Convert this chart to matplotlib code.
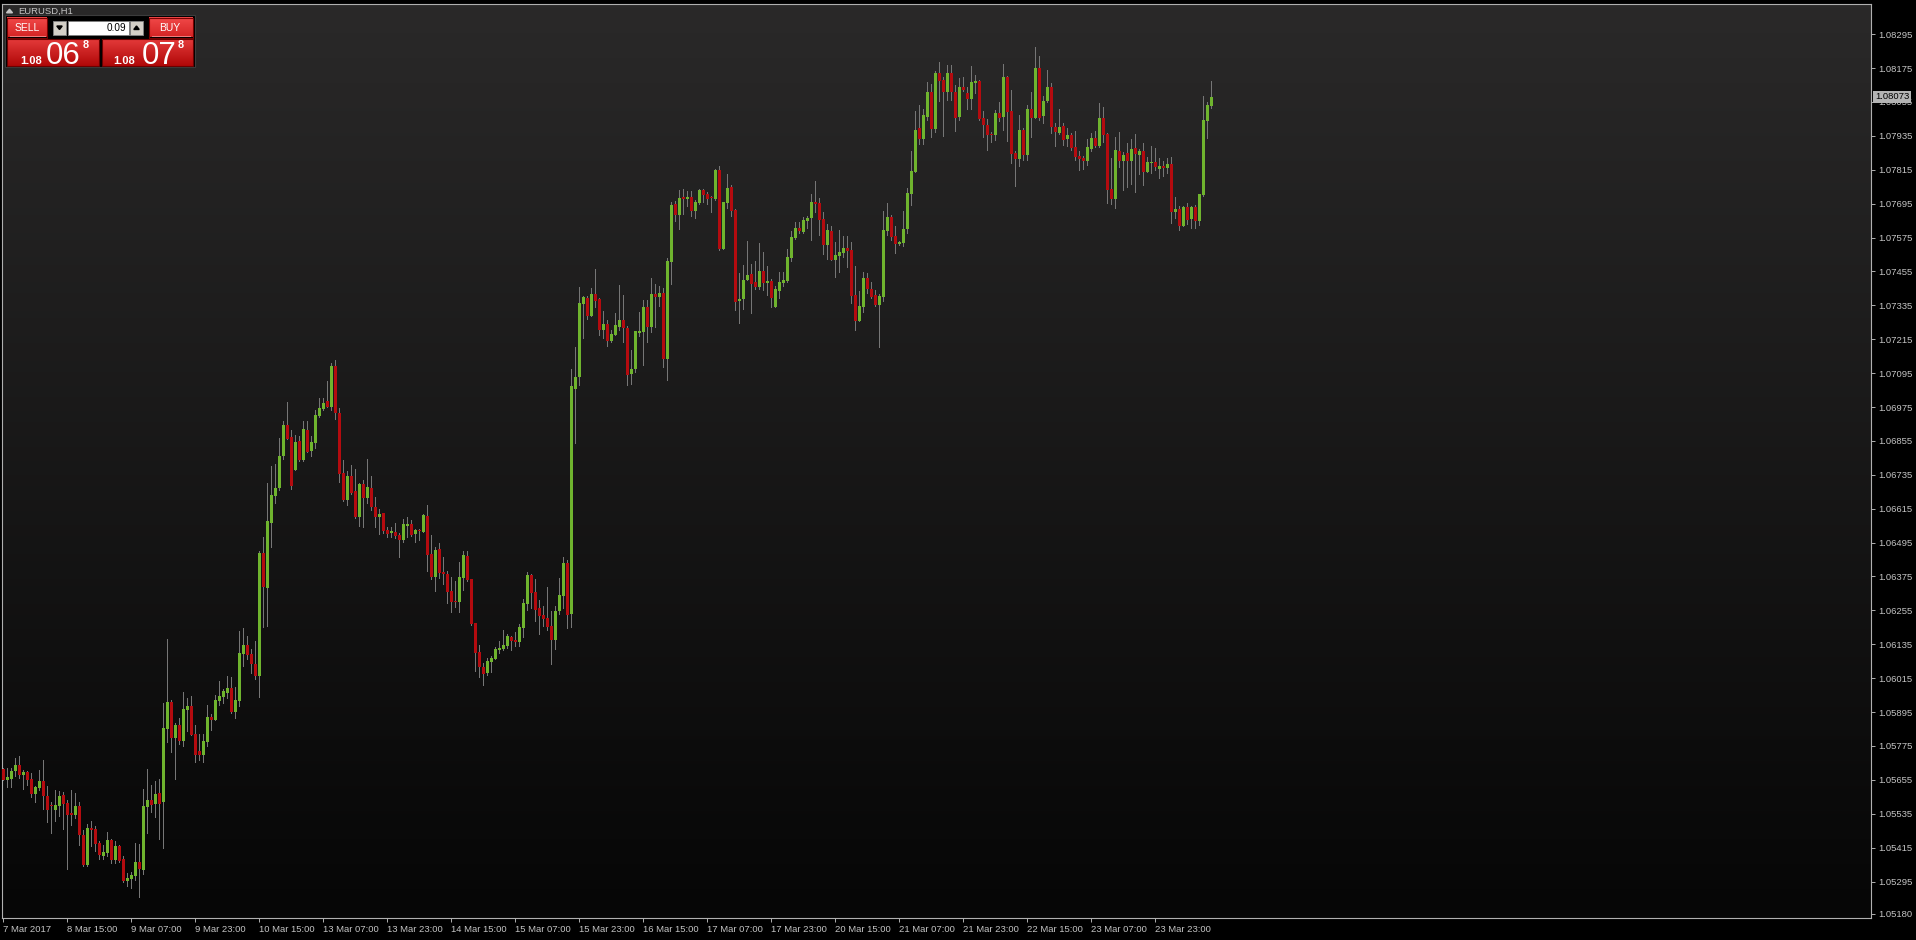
import numpy as np
import matplotlib.pyplot as plt
from matplotlib.colors import LinearSegmentedColormap
from matplotlib.patches import Rectangle, Polygon

plt.rcParams['font.family'] = ['Liberation Sans', 'DejaVu Sans']

# EURUSD H1 candles, prices in points (1 point = 0.00001)
opens = [
    105693, 105656, 105658, 105687, 105708, 105673, 105683, 105658, 105605, 105627, 105651, 105598, 105563, 105549, 105563, 105602,
    105573, 105538, 105531, 105563, 105460, 105354, 105485, 105481, 105432, 105386, 105396, 105442, 105372, 105421, 105375, 105297,
    105304, 105315, 105365, 105336, 105559, 105584, 105570, 105609, 105577, 105835, 105931, 105804, 105850, 105793, 105903, 105917,
    105818, 105758, 105743, 105789, 105878, 105867, 105934, 105948, 105963, 105980, 105895, 105934, 106101, 106133, 106101, 106065,
    106023, 106458, 106334, 106564, 106660, 106688, 106802, 106911, 106869, 106752, 106855, 106788, 106894, 106819, 106848, 106943,
    106968, 106996, 106975, 107120, 106954, 106742, 106646, 106731, 106678, 106586, 106703, 106653, 106688, 106621, 106586, 106600,
    106540, 106529, 106533, 106522, 106504, 106554, 106561, 106526, 106538, 106532, 106589, 106454, 106373, 106472, 106390, 106383,
    106323, 106288, 106284, 106369, 106447, 106366, 106210, 106107, 106054, 106033, 106072, 106082, 106114, 106118, 106128, 106160,
    106150, 106143, 106192, 106277, 106380, 106320, 106263, 106238, 106228, 106199, 106150, 106252, 106305, 106422, 106242, 107038,
    107081, 107339, 107361, 107297, 107375, 107357, 107247, 107269, 107208, 107230, 107258, 107283, 107254, 107092, 107109, 107237,
    107240, 107329, 107258, 107375, 107364, 107378, 107145, 107488, 107694, 107655, 107718, 107711, 107718, 107669, 107697, 107743,
    107729, 107715, 107711, 107814, 107534, 107697, 107754, 107672, 107350, 107357, 107424, 107446, 107417, 107400, 107456, 107414,
    107421, 107329, 107386, 107414, 107421, 107502, 107573, 107609, 107594, 107633, 107644, 107701, 107697, 107640, 107548, 107598,
    107495, 107509, 107520, 107538, 107531, 107371, 107279, 107329, 107432, 107393, 107371, 107336, 107364, 107598, 107648, 107580,
    107552, 107555, 107605, 107730, 107808, 107963, 107924, 108002, 108091, 107960, 108158, 108133, 108089, 108158, 108091, 108002,
    108109, 108087, 108066, 108123, 108130, 107999, 107974, 107942, 107939, 108017, 108002, 108144, 108024, 107875, 107854, 107956,
    107868, 108031, 107999, 108176, 108006, 108059, 108109, 107967, 107946, 107971, 107924, 107939, 107896, 107864, 107857, 107847,
    107889, 107928, 107900, 107999, 107942, 107747, 107712, 107882, 107847, 107875, 107847, 107893, 107868, 107882, 107808, 107840,
    107843, 107818, 107829, 107822, 107836, 107666, 107677, 107616, 107684, 107641, 107684, 107634, 107726, 107988, 108041,
]
highs = [
    105697, 105697, 105697, 105733, 105740, 105690, 105686, 105679, 105634, 105690, 105726, 105634, 105575, 105620, 105615, 105612,
    105584, 105620, 105609, 105577, 105478, 105499, 105510, 105492, 105439, 105425, 105471, 105446, 105439, 105424, 105386, 105326,
    105329, 105432, 105428, 105623, 105694, 105637, 105651, 105658, 105928, 106154, 105938, 105857, 105874, 105966, 105945, 105952,
    105850, 105818, 105818, 105920, 105888, 105955, 106005, 105977, 106023, 106019, 105984, 106182, 106193, 106164, 106118, 106147,
    106465, 106515, 106706, 106766, 106773, 106865, 106926, 106993, 106894, 106876, 106873, 106926, 106926, 106873, 106965, 107007,
    107007, 107067, 107131, 107142, 106972, 106788, 106749, 106770, 106756, 106706, 106717, 106791, 106731, 106657, 106614, 106600,
    106550, 106550, 106564, 106529, 106579, 106586, 106575, 106542, 106543, 106596, 106628, 106521, 106479, 106493, 106444, 106394,
    106373, 106359, 106426, 106465, 106465, 106366, 106210, 106132, 106068, 106086, 106093, 106125, 106146, 106185, 106171, 106164,
    106178, 106206, 106295, 106390, 106382, 106366, 106291, 106270, 106337, 106252, 106270, 106369, 106444, 106433, 107109, 107187,
    107400, 107368, 107368, 107396, 107463, 107361, 107315, 107283, 107247, 107308, 107407, 107371, 107262, 107177, 107244, 107311,
    107354, 107354, 107432, 107410, 107403, 107396, 107502, 107701, 107704, 107743, 107747, 107740, 107740, 107708, 107747, 107747,
    107736, 107722, 107817, 107828, 107701, 107800, 107761, 107676, 107449, 107478, 107563, 107481, 107492, 107555, 107524, 107474,
    107428, 107403, 107453, 107453, 107534, 107598, 107630, 107630, 107647, 107651, 107729, 107775, 107715, 107665, 107623, 107616,
    107559, 107601, 107580, 107580, 107559, 107474, 107386, 107453, 107449, 107417, 107389, 107375, 107669, 107697, 107655, 107616,
    107563, 107669, 107750, 107882, 108024, 108045, 108031, 108126, 108119, 108165, 108197, 108145, 108186, 108186, 108116, 108140,
    108144, 108109, 108183, 108151, 108132, 108024, 107995, 107949, 108027, 108055, 108190, 108148, 108098, 107882, 108009, 107963,
    108045, 108091, 108250, 108218, 108077, 108169, 108123, 107981, 108031, 107981, 107963, 107946, 107953, 107882, 107864, 107924,
    107946, 107953, 108052, 108038, 107946, 107857, 107932, 107949, 107878, 107910, 107924, 107942, 107889, 107910, 107861, 107900,
    107893, 107857, 107847, 107857, 107861, 107719, 107687, 107687, 107698, 107686, 107691, 107730, 108077, 108055, 108130,
]
lows = [
    105653, 105631, 105631, 105667, 105660, 105624, 105636, 105594, 105575, 105620, 105553, 105504, 105468, 105511, 105527, 105481,
    105341, 105496, 105520, 105425, 105350, 105350, 105421, 105404, 105375, 105375, 105386, 105361, 105361, 105365, 105294, 105280,
    105273, 105301, 105241, 105322, 105467, 105542, 105524, 105446, 105414, 105789, 105754, 105658, 105782, 105775, 105828, 105814,
    105719, 105726, 105719, 105775, 105832, 105867, 105920, 105927, 105945, 105892, 105874, 105917, 106058, 106083, 106033, 106012,
    105948, 106196, 106200, 106480, 106635, 106681, 106791, 106861, 106685, 106752, 106784, 106784, 106816, 106802, 106830, 106940,
    106965, 106975, 106965, 106933, 106710, 106642, 106628, 106667, 106582, 106554, 106550, 106635, 106611, 106550, 106526, 106529,
    106515, 106515, 106511, 106444, 106497, 106515, 106518, 106497, 106504, 106532, 106394, 106366, 106323, 106369, 106348, 106281,
    106249, 106267, 106249, 106327, 106359, 106203, 106040, 106019, 105990, 106026, 106036, 106082, 106104, 106114, 106121, 106114,
    106128, 106128, 106160, 106256, 106263, 106217, 106171, 106199, 106185, 106065, 106118, 106242, 106263, 106192, 106195, 106847,
    107053, 107219, 107286, 107297, 107329, 107230, 107219, 107191, 107205, 107230, 107247, 107205, 107053, 107056, 107099, 107226,
    107124, 107205, 107240, 107258, 107332, 107116, 107070, 107410, 107633, 107605, 107658, 107686, 107651, 107644, 107694, 107701,
    107694, 107665, 107708, 107531, 107534, 107679, 107651, 107318, 107272, 107322, 107424, 107308, 107393, 107393, 107389, 107371,
    107329, 107329, 107361, 107403, 107417, 107492, 107570, 107591, 107591, 107609, 107566, 107665, 107584, 107516, 107499, 107495,
    107435, 107453, 107506, 107470, 107343, 107247, 107279, 107311, 107378, 107361, 107332, 107187, 107350, 107584, 107566, 107520,
    107548, 107545, 107591, 107691, 107808, 107907, 107907, 107992, 107932, 107949, 108059, 107935, 108063, 108063, 107953, 107992,
    108094, 108031, 108031, 108087, 107992, 107932, 107886, 107914, 107921, 107988, 107956, 107917, 107840, 107758, 107829, 107850,
    107850, 107932, 107999, 107992, 107981, 108055, 107946, 107900, 107942, 107903, 107900, 107886, 107850, 107815, 107818, 107832,
    107882, 107896, 107896, 107914, 107698, 107694, 107680, 107825, 107744, 107755, 107765, 107737, 107801, 107762, 107808, 107804,
    107815, 107786, 107794, 107804, 107627, 107645, 107602, 107616, 107624, 107609, 107609, 107620, 107723, 107928, 108034,
]
closes = [
    105655, 105666, 105687, 105708, 105673, 105683, 105655, 105605, 105630, 105651, 105596, 105549, 105561, 105566, 105598, 105571,
    105531, 105531, 105563, 105458, 105354, 105485, 105478, 105428, 105389, 105400, 105442, 105372, 105421, 105368, 105297, 105308,
    105319, 105365, 105340, 105563, 105584, 105566, 105605, 105570, 105839, 105931, 105804, 105850, 105793, 105906, 105917, 105814,
    105743, 105743, 105793, 105878, 105868, 105938, 105952, 105970, 105980, 105895, 105938, 106104, 106133, 106097, 106065, 106023,
    106458, 106338, 106572, 106664, 106688, 106802, 106911, 106862, 106695, 106851, 106788, 106897, 106816, 106851, 106947, 106972,
    106989, 106975, 107120, 106954, 106738, 106646, 106731, 106671, 106586, 106703, 106653, 106692, 106621, 106586, 106596, 106536,
    106526, 106536, 106518, 106504, 106561, 106561, 106522, 106540, 106536, 106592, 106451, 106373, 106468, 106387, 106383, 106320,
    106284, 106284, 106373, 106451, 106362, 106206, 106104, 106054, 106029, 106075, 106086, 106118, 106121, 106132, 106164, 106146,
    106143, 106196, 106281, 106380, 106316, 106256, 106235, 106224, 106196, 106150, 106252, 106309, 106422, 106238, 107049, 107081,
    107343, 107364, 107297, 107375, 107350, 107247, 107269, 107208, 107233, 107265, 107283, 107254, 107088, 107109, 107244, 107244,
    107329, 107258, 107375, 107364, 107378, 107145, 107492, 107690, 107655, 107715, 107711, 107718, 107669, 107701, 107743, 107725,
    107711, 107714, 107814, 107534, 107701, 107750, 107669, 107347, 107357, 107424, 107442, 107410, 107400, 107456, 107414, 107421,
    107361, 107393, 107417, 107424, 107506, 107577, 107609, 107598, 107637, 107644, 107701, 107694, 107637, 107548, 107601, 107495,
    107513, 107524, 107538, 107527, 107368, 107279, 107332, 107432, 107393, 107364, 107336, 107368, 107601, 107648, 107577, 107552,
    107559, 107605, 107732, 107811, 107956, 107924, 108009, 108091, 107960, 108158, 108130, 108089, 108158, 108089, 108000, 108109,
    108098, 108066, 108126, 108130, 107995, 107974, 107939, 107939, 108017, 107999, 108144, 108020, 107871, 107854, 107956, 107868,
    108031, 107999, 108176, 107999, 108059, 108109, 107967, 107949, 107967, 107921, 107939, 107893, 107861, 107854, 107847, 107896,
    107928, 107900, 107999, 107939, 107744, 107712, 107886, 107847, 107868, 107847, 107889, 107871, 107882, 107808, 107843, 107843,
    107825, 107829, 107822, 107836, 107666, 107677, 107616, 107684, 107638, 107684, 107634, 107730, 107992, 108045, 108073,
]

time_labels = ['7 Mar 2017', '8 Mar 15:00', '9 Mar 07:00', '9 Mar 23:00', '10 Mar 15:00',
               '13 Mar 07:00', '13 Mar 23:00', '14 Mar 15:00', '15 Mar 07:00', '15 Mar 23:00',
               '16 Mar 15:00', '17 Mar 07:00', '17 Mar 23:00', '20 Mar 15:00', '21 Mar 07:00',
               '21 Mar 23:00', '22 Mar 15:00', '23 Mar 07:00', '23 Mar 23:00']
price_ticks = [1.08295, 1.08175, 1.08055, 1.07935, 1.07815, 1.07695, 1.07575, 1.07455, 1.07335,
               1.07215, 1.07095, 1.06975, 1.06855, 1.06735, 1.06615, 1.06495, 1.06375, 1.06255,
               1.06135, 1.06015, 1.05895, 1.05775, 1.05655, 1.05535, 1.05415, 1.05295, 1.05180]
symbol = 'EURUSD,H1'
lot_size = '0.09'
bid_parts = ('1.08', '06', '8')
ask_parts = ('1.08', '07', '8')

GREEN = '#6fb42e'
RED = '#b40b0f'
WICK = '#767676'
TXT = '#c4c4c4'
FRAME = '#b0b0b0'

W, H = 1916, 940
fig = plt.figure(figsize=(W / 100, H / 100), dpi=100, facecolor='black')

# chart area in pixels
L, R, T, B = 2, 1871, 4, 918
ax = fig.add_axes([L / W, 1 - B / H, (R - L) / W, (B - T) / H])
ax.set_facecolor('black')

o = np.array(opens) / 1e5
h = np.array(highs) / 1e5
l = np.array(lows) / 1e5
c = np.array(closes) / 1e5
x = np.arange(len(o))

xlim = (-0.33, 466.9)
ylim = (1.051658, 1.084019)

# background gradient
bg = LinearSegmentedColormap.from_list('bg', ['#060606', '#2a2929'])
ax.imshow(np.linspace(0, 1, 256).reshape(-1, 1), extent=[xlim[0], xlim[1], ylim[0], ylim[1]],
          origin='lower', cmap=bg, aspect='auto', zorder=0)

px = (ylim[1] - ylim[0]) / (B - T)
ax.vlines(x, l, h, colors=WICK, lw=0.72, zorder=2, antialiased=False)
up = c >= o
dn = ~up
ax.bar(x[up], np.maximum(c - o, px)[up], bottom=o[up], width=0.75, color=GREEN,
       linewidth=0, zorder=3, antialiased=False)
ax.bar(x[dn], np.maximum(o - c, px)[dn], bottom=c[dn], width=0.75, color=RED,
       linewidth=0, zorder=3, antialiased=False)

ax.set_xlim(*xlim)
ax.set_ylim(*ylim)

for s in ax.spines.values():
    s.set_color(FRAME)
    s.set_linewidth(0.8)

ax.yaxis.tick_right()
ax.set_yticks(price_ticks)
ax.set_yticklabels([f'{v:.5f}' for v in price_ticks])
ax.tick_params(axis='y', length=3, width=0.7, color=FRAME, pad=2, labelsize=6.8, labelcolor=TXT)
ax.set_xticks(np.arange(len(time_labels)) * 16)
ax.set_xticklabels(time_labels, ha='left')
ax.tick_params(axis='x', length=3, width=0.7, color=FRAME, pad=2, labelsize=6.8, labelcolor=TXT)
for t in ax.get_xticklabels():
    t.set_x(t.get_position()[0])

# current price marker
ax.annotate(f'{c[-1]:.5f}', xy=(1, c[-1]), xycoords=('axes fraction', 'data'),
            xytext=(3, 0), textcoords='offset points', ha='left', va='center',
            fontsize=6.8, color='black', zorder=10, annotation_clip=False,
            bbox=dict(boxstyle='square,pad=0.2', fc='#b4b4b4', ec='none'))

# overlay for the top-left trading panel
ov = fig.add_axes([0, 0, 1, 1])
ov.axis('off')
ov.set_zorder(5)


def grad_box(x0, y0, x1, y1, top, bottom, edge):
    cm = LinearSegmentedColormap.from_list('g', [top, bottom])
    ov.imshow(np.linspace(0, 1, 64).reshape(-1, 1), extent=[x0, x1, y1, y0],
              cmap=cm, aspect='auto', zorder=2)
    ov.add_patch(Rectangle((x0, y0), x1 - x0, y1 - y0, fc='none', ec=edge, lw=0.8, zorder=3))


ov.add_patch(Polygon([(6.5, 12.8), (12.5, 12.8), (9.5, 9.2)], closed=True, color=TXT, zorder=3))
ov.text(18, 11, symbol, color=TXT, fontsize=6.8, va='center', ha='left', zorder=4)

ov.add_patch(Rectangle((5, 15), 190, 52, fc='black', ec='#3c3c3c', lw=0.8, zorder=1))
grad_box(7, 18, 47, 37.5, '#f24a4a', '#d42424', '#7a0000')
grad_box(149, 18, 193, 37.5, '#f24a4a', '#d42424', '#7a0000')
ov.plot([10, 45], [35.5, 35.5], color='#f08080', lw=0.7, zorder=4)
ov.plot([152, 190], [35.5, 35.5], color='#f08080', lw=0.7, zorder=4)
ov.text(27, 28, 'SELL', color='white', fontsize=7.5, ha='center', va='center', zorder=4)
ov.text(170, 28, 'BUY', color='white', fontsize=7.5, ha='center', va='center', zorder=4)

ov.add_patch(Rectangle((53, 21), 13, 13.5, fc='#d4d0c8', ec='#808080', lw=0.7, zorder=3))
ov.add_patch(Polygon([(56.8, 26), (62.2, 26), (59.5, 29.5)], closed=True, color='black', zorder=4))
ov.add_patch(Rectangle((68, 21), 61, 13.5, fc='white', ec='#808080', lw=0.7, zorder=3))
ov.text(126, 27.8, lot_size, color='black', fontsize=7.2, ha='right', va='center', zorder=4)
ov.add_patch(Rectangle((130, 21), 13, 13.5, fc='#d4d0c8', ec='#808080', lw=0.7, zorder=3))
ov.add_patch(Polygon([(133.8, 29.5), (139.2, 29.5), (136.5, 26)], closed=True, color='black', zorder=4))

grad_box(7, 39, 99.5, 66, '#e43a3a', '#b00808', '#6a0000')
grad_box(102, 39, 193, 66, '#e43a3a', '#b00808', '#6a0000')
for (small, big, sup), (xs, xb, xp) in zip([bid_parts, ask_parts], [(20, 46, 83), (113, 141.5, 178)]):
    ov.text(xs, 64, small, color='white', fontsize=8, fontweight='bold', va='baseline', zorder=4)
    ov.text(xb, 64.3, big, color='white', fontsize=22.5, va='baseline', zorder=4)
    ov.text(xp, 39.5, sup, color='white', fontsize=7.8, fontweight='bold', va='top', zorder=4)

ov.set_xlim(0, W)
ov.set_ylim(H, 0)

fig.savefig('out.png', dpi=100, facecolor='black')
